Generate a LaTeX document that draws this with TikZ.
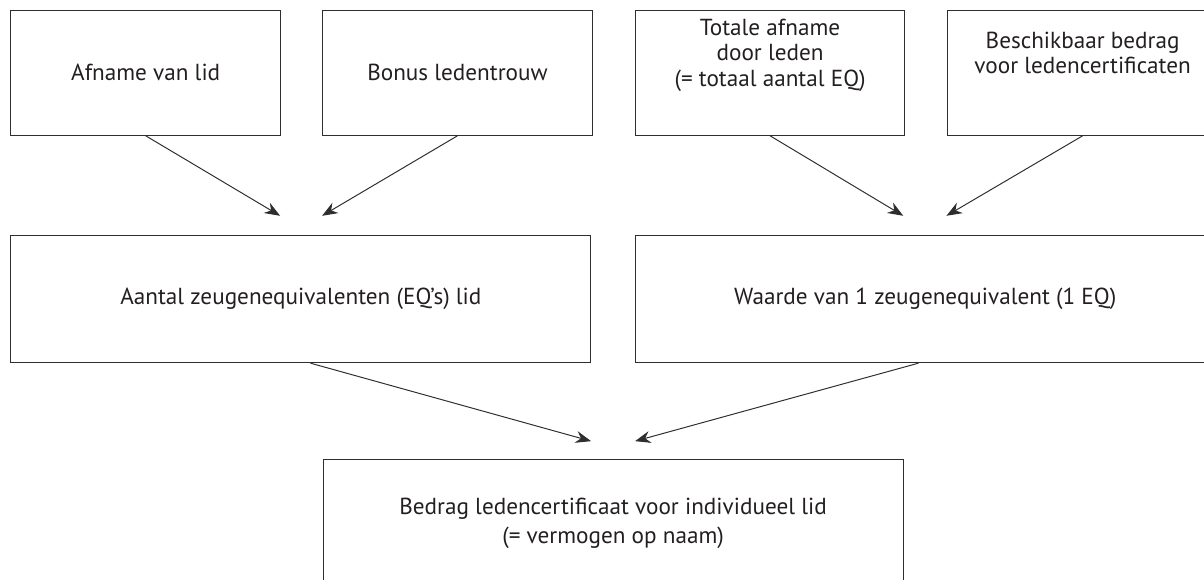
\documentclass[tikz,border=0pt]{standalone}
\usepackage{fontspec}
\setmainfont{PT Sans}
\usepackage{tikz}
\usetikzlibrary{arrows.meta, positioning, calc}
\definecolor{linegray}{HTML}{2E2E2E}
\definecolor{textgray}{HTML}{231F20}
\tikzset{
    block/.style={rectangle, draw=linegray, line width=0.7pt, minimum width=6.74cm, minimum height=3.13cm, align=center, text=textgray, font=\fontsize{16.5}{18}\selectfont, anchor=north west},
    blockhigh/.style={block, text depth=1.0cm},
    blockwide/.style={block, minimum width=14.5cm, minimum height=3.18cm},
    arrow/.style={-{Stealth[length=11pt, width=8.5pt]}, draw=linegray, line width=0.7pt},
}

\begin{document}
\begin{tikzpicture}
        \useasboundingbox (0,0) rectangle (30.1,-14.5);
        \clip (0,0) rectangle (30.1,-14.5);

        % Nodes
        \node [block] (afname) at (0.26,-0.24) {Afname van lid};
        \node [block, right=1.03cm of afname] (bonus) {Bonus ledentrouw};
        \node [blockhigh, right=1.05cm of bonus] (totaal) {Totale afname\\door leden\\(= totaal aantal EQ)};
        \node [blockhigh, right=1.05cm of totaal] (bedrag) {Beschikbaar bedrag\\voor ledencertificaten};
        \node [blockwide, below=2.48cm of afname.south west, anchor=north west] (aantal) {Aantal zeugenequivalenten (EQ’s) lid};
        \node [blockwide, below=2.48cm of totaal.south west, anchor=north west] (waarde) {Waarde van 1 zeugenequivalent (1 EQ)};
        \node [blockwide, anchor=north] (certificaat) at ($(aantal.south)!0.5!(waarde.south)+(0,-2.4)$) {Bedrag ledencertificaat voor individueel lid\\[3pt](= vermogen op naam)};

        % Arrow ends
        \coordinate (aantalL) at ($(aantal.north)+(-0.52,0.48)$);
        \coordinate (aantalR) at ($(aantal.north)+(0.53,0.48)$);
        \coordinate (waardeL) at ($(waarde.north)+(-0.55,0.48)$);
        \coordinate (waardeR) at ($(waarde.north)+(0.53,0.48)$);
        \coordinate (certL) at ($(certificaat.north)+(-0.55,0.45)$);
        \coordinate (certR) at ($(certificaat.north)+(0.55,0.45)$);

        % Edges
        \draw [arrow] (afname.south) -- (aantalL);
        \draw [arrow] (bonus.south) -- (aantalR);
        \draw [arrow] (totaal.south) -- (waardeL);
        \draw [arrow] (bedrag.south) -- (waardeR);
        \draw [arrow] ([xshift=0.24cm]aantal.south) -- (certL);
        \draw [arrow] ([xshift=-0.17cm]waarde.south) -- (certR);
    \end{tikzpicture}
\end{document}
